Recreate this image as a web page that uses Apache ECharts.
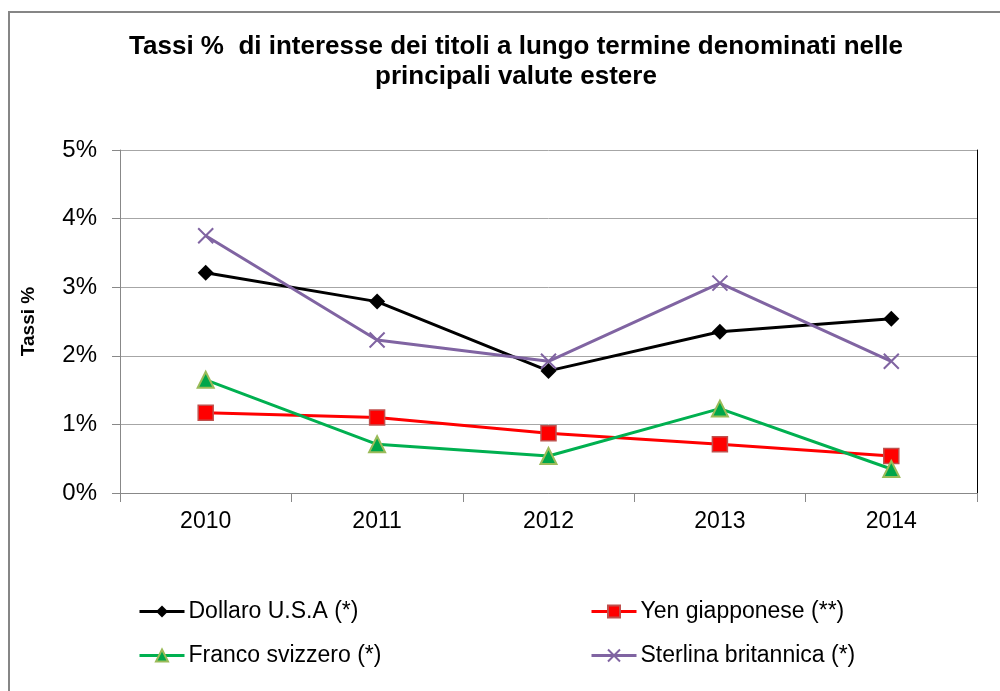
<!DOCTYPE html>
<html>
<head>
<meta charset="utf-8">
<script src="https://cdn.jsdelivr.net/npm/echarts@6/dist/echarts.min.js"></script>
<style>
    html, body { margin: 0; padding: 0; background: #fff; }
    #tassi { width: 1000px; height: 691px; }
</style>
</head>
<body>
<div id="tassi"></div>
<script>
// anni e tassi (%)
const anni = ['2010', '2011', '2012', '2013', '2014'];
const dollaro = [3.21, 2.79, 1.78, 2.35, 2.54];
const yen = [1.17, 1.10, 0.87, 0.71, 0.54];
const franco = [1.65, 0.71, 0.54, 1.23, 0.35];
const sterlina = [3.75, 2.23, 1.92, 3.06, 1.92];
const nomi = ['Dollaro U.S.A (*)', 'Yen giapponese (**)', 'Franco svizzero (*)', 'Sterlina britannica (*)'];

const font = 'Liberation Sans, Arial, sans-serif';
let myChart = echarts.init(document.getElementById('tassi'));

function legenda(nome, left, top) {
    return {
        data: [nome], left: left, top: top, padding: 0,
        itemWidth: 45, itemHeight: 15, itemGap: 0,
        lineStyle: { width: 3 },
        textStyle: { fontFamily: font, fontSize: 23, color: '#000', padding: [0, 0, 0, -1] }
    };
}

myChart.setOption({
    animation: false,
    textStyle: { fontFamily: font },
    title: {
        text: 'Tassi %  di interesse dei titoli a lungo termine denominati nelle\nprincipali valute estere',
        left: 511, top: 27, textAlign: 'center',
        textStyle: { fontSize: 26, fontWeight: 'bold', color: '#000', lineHeight: 30, fontFamily: font }
    },
    graphic: [{
        type: 'rect', shape: { x: 9, y: 12, width: 1000, height: 700 },
        style: { fill: 'none', stroke: '#868686', lineWidth: 2 }, silent: true
    }],
    legend: [
        legenda(nomi[0], 138, 600),
        legenda(nomi[1], 590, 600),
        legenda(nomi[2], 138, 644),
        legenda(nomi[3], 590, 644)
    ],
    grid: { left: 120, right: 23, top: 150, bottom: 198 },
    xAxis: {
        type: 'category', data: anni, boundaryGap: true,
        axisLine: { lineStyle: { color: '#888', width: 1 } },
        axisTick: { show: true, length: 9, lineStyle: { color: '#888' } },
        axisLabel: { fontSize: 23, color: '#000', margin: 17, fontFamily: font }
    },
    yAxis: [{
        type: 'value', min: 0, max: 5, interval: 1,
        name: 'Tassi %', nameLocation: 'middle', nameGap: 82, nameRotate: 90,
        nameTextStyle: { fontSize: 19, fontWeight: 'bold', color: '#000', fontFamily: font },
        axisLine: { show: true, lineStyle: { color: '#888' } },
        axisTick: { show: true, length: 8, lineStyle: { color: '#888' } },
        axisLabel: { formatter: '{value}%', fontSize: 24, color: '#000', margin: 23, fontFamily: font },
        splitLine: { lineStyle: { color: '#a6a6a6', width: 1 } }
    }, {
        type: 'value', min: 0, max: 5, interval: 1, position: 'right',
        axisLine: { show: true, lineStyle: { color: '#000', width: 1 } },
        axisTick: { show: false }, axisLabel: { show: false }, splitLine: { show: false }
    }],
    series: [{
        name: nomi[0], type: 'line', data: dollaro,
        symbol: 'diamond', symbolSize: 16,
        lineStyle: { color: '#000', width: 3 },
        itemStyle: { color: '#000' }
    }, {
        name: nomi[1], type: 'line', data: yen,
        symbol: 'rect', symbolSize: 15,
        lineStyle: { color: '#ff0000', width: 3 },
        itemStyle: { color: '#ff0000', borderColor: '#c0504d', borderWidth: 1.5 }
    }, {
        name: nomi[2], type: 'line', data: franco,
        symbol: 'triangle', symbolSize: 16,
        lineStyle: { color: '#00b050', width: 3 },
        itemStyle: { color: '#00a64a', borderColor: '#9bbb59', borderWidth: 2 }
    }, {
        name: nomi[3], type: 'line', data: sterlina,
        symbol: 'path://M0,0L10,10M10,0L0,10', symbolSize: 15,
        lineStyle: { color: '#8064a2', width: 3 },
        itemStyle: { color: 'none', borderColor: '#8064a2', borderWidth: 2 }
    }]
});
</script>
</body>
</html>
